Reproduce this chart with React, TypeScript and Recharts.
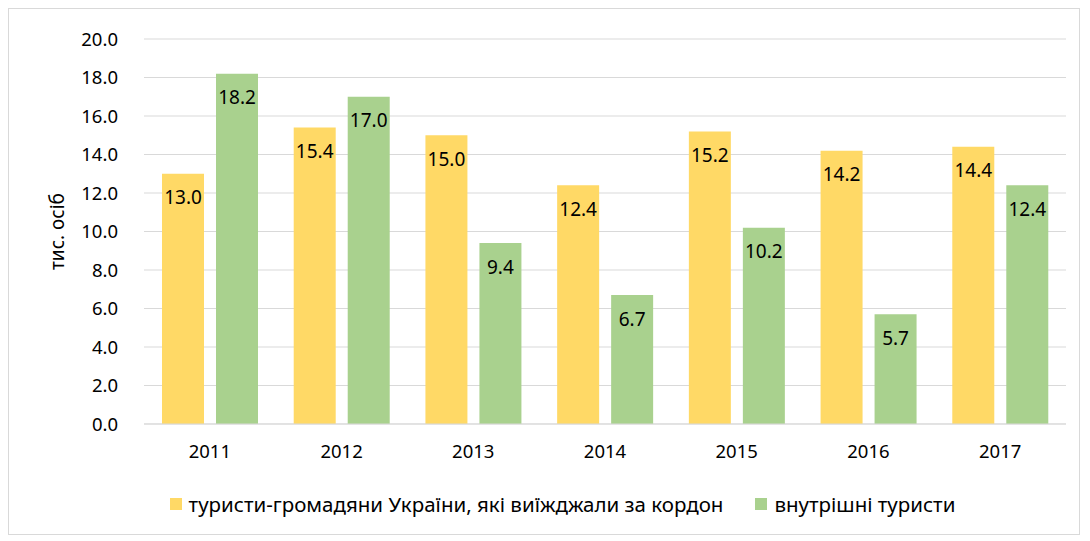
import { BarChart, Bar, XAxis, YAxis, CartesianGrid, Legend, LabelList } from "recharts";

const years = ["2011", "2012", "2013", "2014", "2015", "2016", "2017"];
const outbound = [13.0, 15.4, 15.0, 12.4, 15.2, 14.2, 14.4];
const domestic = [18.2, 17.0, 9.4, 6.7, 10.2, 5.7, 12.4];
const yTicks = [0, 2, 4, 6, 8, 10, 12, 14, 16, 18, 20];

const outboundName = "туристи-громадяни України, які виїжджали за кордон";
const domesticName = "внутрішні туристи";
const seriesColors = ["#ffd966", "#a9d18e"];
const seriesNames = [outboundName, domesticName];

const data = years.map((year, i) => ({
  year,
  outbound: outbound[i],
  domestic: domestic[i],
}));

const font = "'Noto Sans', 'Open Sans', sans-serif";

const LegendBox = () => (
  <div
    style={{
      display: "flex",
      justifyContent: "center",
      gap: 32,
      fontSize: 20.5,
      color: "#000",
      paddingLeft: 20,
    }}
  >
    {seriesNames.map((n, i) => (
      <div key={n} style={{ display: "flex", alignItems: "center" }}>
        <span
          style={{
            display: "inline-block",
            width: 12,
            height: 12,
            background: seriesColors[i],
            marginRight: 7,
          }}
        />
        <span>{n}</span>
      </div>
    ))}
  </div>
);

const App = () => {
  return (
    <div
      style={{
        width: 1070,
        height: 525,
        border: "1px solid #d9d9d9",
        fontFamily: font,
      }}
    >
      <BarChart
        width={1070}
        height={525}
        data={data}
        margin={{ top: 30, right: 13, bottom: 16, left: 30 }}
        barSize={42}
        barGap={12}
      >
        <CartesianGrid vertical={false} stroke="#d9d9d9" />
        <XAxis
          dataKey="year"
          tickLine={false}
          axisLine={{ stroke: "#d9d9d9" }}
          tick={{ fontSize: 18.5, fill: "#000" }}
          tickMargin={15}
          height={54}
        />
        <YAxis
          domain={[0, 20]}
          ticks={yTicks}
          interval={0}
          tickFormatter={(v) => v.toFixed(1)}
          tickLine={false}
          axisLine={false}
          tick={{ fontSize: 18.5, fill: "#000" }}
          tickMargin={20}
          width={105}
          label={{
            value: "тис. осіб",
            angle: -90,
            position: "insideLeft",
            offset: 18,
            style: { fontSize: 19, fill: "#000", textAnchor: "middle" },
          }}
        />
        <Legend verticalAlign="bottom" wrapperStyle={{ paddingTop: 12 }} content={<LegendBox />} />
        <Bar dataKey="outbound" name={outboundName} fill={seriesColors[0]} isAnimationActive={false}>
          <LabelList
            dataKey="outbound"
            position="insideTop"
            offset={17}
            formatter={(v: number) => v.toFixed(1)}
            style={{ fontSize: 19, fill: "#000" }}
          />
        </Bar>
        <Bar dataKey="domestic" name={domesticName} fill={seriesColors[1]} isAnimationActive={false}>
          <LabelList
            dataKey="domestic"
            position="insideTop"
            offset={17}
            formatter={(v: number) => v.toFixed(1)}
            style={{ fontSize: 19, fill: "#000" }}
          />
        </Bar>
      </BarChart>
    </div>
  );
};

export default App;
